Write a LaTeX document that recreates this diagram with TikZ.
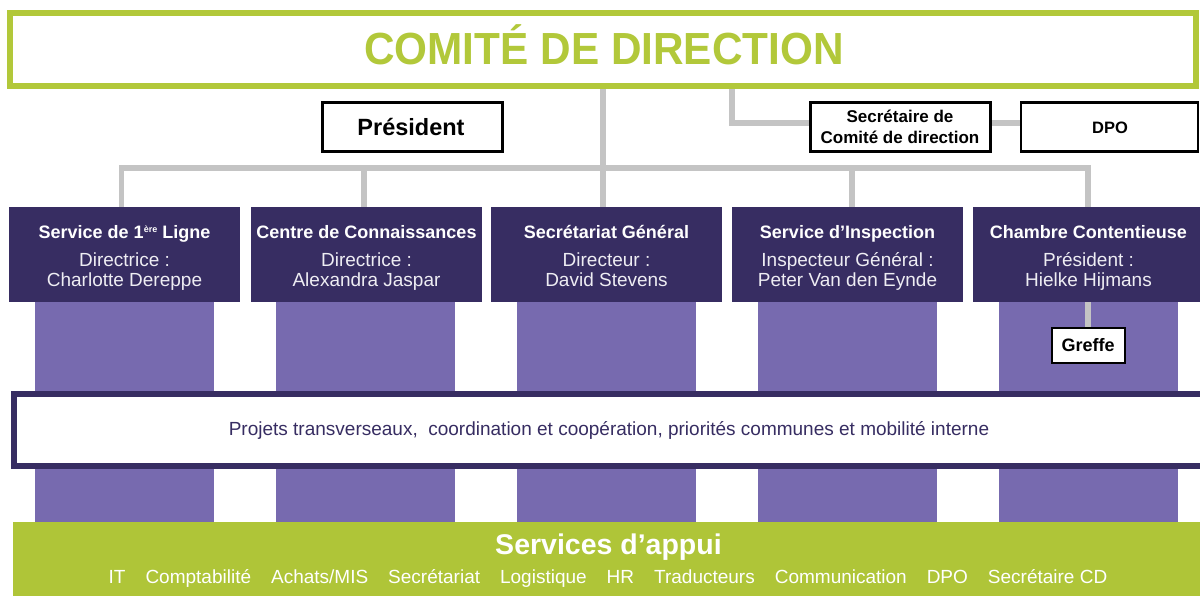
\documentclass[tikz,border=0pt]{standalone}
\usepackage{fontspec}
\setmainfont{Liberation Sans}
\newfontfamily\titlefont[FakeStretch=0.94]{Liberation Sans}
\definecolor{cdgreen}{HTML}{B2C83A}
\definecolor{appgreen}{HTML}{AFC538}
\definecolor{dkpurple}{HTML}{372D62}
\definecolor{ltpurple}{HTML}{776AAF}
\definecolor{conngray}{HTML}{C4C4C4}
\definecolor{lighttext}{HTML}{EEEDF3}
\pgfdeclarelayer{bg}
\pgfsetlayers{bg,main}
\newcommand\gapx{\hspace{20pt}}
\newcommand\supère{\raisebox{6pt}{\fontsize{9}{10}\selectfont ère}}
\begin{document}
\begin{tikzpicture}[x=1pt,y=-1pt,
  conn/.style={draw=conngray,line width=5.5pt},
  wbox/.style={draw=black,line width=2.5pt,fill=white,inner sep=0pt},
  dbox/.style={fill=dkpurple,inner sep=0pt,minimum width=231pt,minimum height=95pt},
  colbox/.style={fill=ltpurple,inner sep=0pt,minimum width=179pt,minimum height=220pt},
  ttl/.style={anchor=base,inner sep=0pt,text=white,font=\fontsize{18}{20}\selectfont\bfseries},
  sub/.style={anchor=base,inner sep=0pt,text=lighttext,font=\fontsize{19}{21}\selectfont},
  btxt/.style={anchor=base,inner sep=0pt,text=black,font=\bfseries}
]
\useasboundingbox (0,0) rectangle (1200,595);
\begin{pgfonlayer}{bg}
\fill[white] (0,0) rectangle (1200,595);
\end{pgfonlayer}

% top box
\node[draw=cdgreen,line width=6pt,fill=white,inner sep=0pt,minimum width=1185.5pt,minimum height=72.5pt] (cd) at (602.75,49.25) {};
\node[anchor=base,inner sep=0pt,text=cdgreen,font=\titlefont\fontsize{45}{50}\selectfont\bfseries] (cdt) at (604,64) {COMITÉ DE DIRECTION};

% light columns
\foreach \i/\cx in {1/124.5,2/365.5,3/606.5,4/847.5,5/1088.5}{
  \node[colbox] (c\i) at (\cx,412) {};
}

% dark service boxes
\foreach \i/\cx/\ta/\tb/\tc in {
  1/124.5/{Service de 1\supère{} Ligne}/{Directrice :}/{Charlotte Dereppe},
  2/366.5/{Centre de Connaissances}/{Directrice :}/{Alexandra Jaspar},
  3/606.5/{Secrétariat Général}/{Directeur :}/{David Stevens},
  4/847.5/{Service d’Inspection}/{Inspecteur Général :}/{Peter Van den Eynde},
  5/1088.5/{Chambre Contentieuse}/{Président :}/{Hielke Hijmans}}{
  \node[dbox] (s\i) at (\cx,254.5) {};
  \node[ttl] (s\i a) at (\cx,238) {\ta};
  \node[sub] (s\i b) at (\cx,266) {\tb};
  \node[sub] (s\i c) at (\cx,286) {\tc};
}

% Greffe
\node[wbox,line width=2pt,minimum width=73pt,minimum height=35pt] (gr) at (1088,345) {};
\node[btxt,font=\fontsize{18}{20}\selectfont\bfseries] (grt) at (1088,351) {Greffe};
\draw[conn] (s5.south -| gr.north) -- (gr.north);

% President, Secretaire, DPO
\node[wbox,minimum width=180pt,minimum height=49pt] (pres) at (412.25,127.2) {};
\node[btxt,font=\fontsize{23.5}{26}\selectfont\bfseries] (prest) at (411,135) {Président};
\node[wbox,minimum width=180pt,minimum height=49pt] (sec) at (900.5,127.2) {};
\node[btxt,font=\fontsize{17}{19}\selectfont\bfseries] (seca) at (900,122) {Secrétaire de};
\node[btxt,font=\fontsize{17}{19}\selectfont\bfseries] (secb) at (900,143) {Comité de direction};
\node[wbox,minimum width=177pt,minimum height=49pt] (dpo) at (1109.5,127.2) {};
\node[btxt,font=\fontsize{16.5}{19}\selectfont\bfseries] (dpot) at (1110,133) {DPO};

% connectors
\coordinate (hub) at (603,168);
\coordinate (d1) at (121.5,168);
\coordinate (d2) at (364,168);
\coordinate (d4) at (852,168);
\coordinate (d5) at (1088,168);
\coordinate (br) at (732,123);
\begin{pgfonlayer}{bg}
  \draw[conn] (cd.south -| hub) -- (s3.north -| hub);
  \draw[conn] (s1.north -| d1) -- (d1) -- (d5) -- (s5.north -| d5);
  \draw[conn] (d2) -- (s2.north -| d2);
  \draw[conn] (d4) -- (s4.north -| d4);
  \draw[conn] (cd.south -| br) -- (br) -- (sec.west |- br);
  \draw[conn] (sec.east |- br) -- (dpo.west |- br);
\end{pgfonlayer}

% transverse box
\node[draw=dkpurple,line width=6pt,fill=white,inner sep=0pt,minimum width=1195pt,minimum height=72.3pt] (tr) at (611.5,429.8) {};
\node[anchor=base,inner sep=0pt,text=dkpurple,font=\fontsize{19}{21}\selectfont] (trt) at (609,435.7) {Projets transverseaux,\ \ coordination et coopération, priorités communes et mobilité interne};

% support services
\node[fill=appgreen,inner sep=0pt,minimum width=1192pt,minimum height=80pt,anchor=north west] (app) at (13,522) {};
\node[anchor=base,inner sep=0pt,text=white,font=\fontsize{28.5}{30}\selectfont\bfseries] (appt) at (608.5,554) {Services d’appui};
\node[anchor=base,inner sep=0pt,text=white,font=\fontsize{19}{21}\selectfont] (items) at (608,583) {IT\gapx Comptabilité\gapx Achats/MIS\gapx Secrétariat\gapx Logistique\gapx HR\gapx Traducteurs\gapx Communication\gapx DPO\gapx Secrétaire CD};
\end{tikzpicture}
\end{document}
